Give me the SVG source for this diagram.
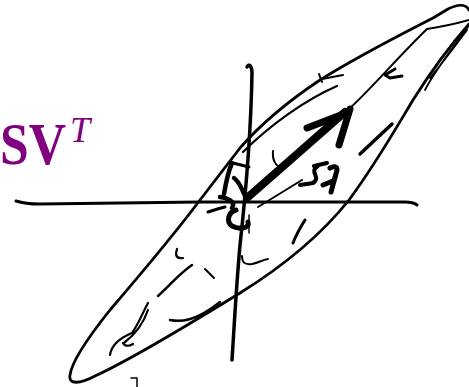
<svg xmlns="http://www.w3.org/2000/svg" width="469" height="387" viewBox="0 0 469 387">
<style>
.s{fill:none;stroke:#000;stroke-linecap:round;stroke-linejoin:round}
.lbl{fill:#800080;font-family:"Liberation Serif","DejaVu Serif",serif}
</style>
<rect width="469" height="387" fill="#fff"/>
<text class="lbl" x="0" y="164" font-size="60" font-weight="bold"><tspan textLength="66" lengthAdjust="spacingAndGlyphs">SV</tspan><tspan x="70" y="142" font-size="36" font-weight="normal" font-style="italic">T</tspan></text>
<g id="axes">
<path class="s" stroke-width="3" d="M16,201 Q25,204 40,204 L200,202 L405,202 Q413,202 417,205"/>
<path class="s" stroke-width="3.5" d="M247,67 C249,63 252,66 252,73 C251,130 245,200 240,245 C236,290 234,330 232,360"/>
</g>
<g id="ellipse">
<path class="s" stroke-width="2.8" d="M469,10 C466,4 458,4 448,9 L433,18 C400,35 360,55 320,80 C290,100 260,125 240,148 L200,200 C170,240 140,275 110,310 C90,335 72,360 70,375 C68,385 80,384 95,376 C130,360 180,330 240,293 C290,262 325,230 349,200 C375,165 395,130 413,100 C435,65 455,40 469,24"/>
<path class="s" stroke-width="2.2" d="M243,152 C270,125 305,100 337,86"/>
<path class="s" stroke-width="2" d="M319,74 L322,82 M322,79 L343,75"/>
<path class="s" stroke-width="2" d="M350,108 C370,90 400,55 427,29 C440,27 455,24 469,20"/>
<path class="s" stroke-width="1.8" d="M425,90 C435,70 455,45 468,27 M430,78 C445,60 458,42 467,30"/>
<path class="s" stroke-width="3" d="M395,69 L385,75 L390,78 L402,76"/>
<path class="s" stroke-width="3.5" d="M360,154 L392,124"/>
<path class="s" stroke-width="3" d="M293,243 C296,235 300,228 305,220"/>
<path class="s" stroke-width="2.2" d="M177,249 C175,255 176,259 183,258"/>
<path class="s" stroke-width="2.5" d="M158,296 C170,285 180,273 192,265"/>
<path class="s" stroke-width="2" d="M205,269 L214,278"/>
<path class="s" stroke-width="2" d="M242,256 C242,262 244,265 252,264 C258,263 262,260 268,259"/>
<path class="s" stroke-width="2.5" d="M170,320 C180,322 195,322 220,302"/>
<path class="s" stroke-width="2.2" d="M110,355 C111,348 115,340 132,333 C138,325 143,312 148,303 M123,343 C125,347 130,346 133,344 M125,342 C133,336 142,327 148,310"/>
<path class="s" stroke-width="1.5" d="M131,378 L137,378 L137,387"/>
</g>
<g id="vector">
<path class="s" stroke-width="8" d="M247,198 L345,112"/>
<path class="s" stroke-width="7" d="M307,128 L346,113 M350,109 L339,145"/>
<path class="s" stroke-width="2" d="M273,151 C272,160 276,167 283,169"/>
<path class="s" stroke-width="2" d="M258,207 L302,180"/>
<path class="s" stroke-width="4" d="M314,166 L327,163 M318,166 C308,172 322,177 313,183 L300,185"/>
<path class="s" stroke-width="5" d="M330,168 C333,166 337,166 337,170 L331,192 M323,185 L333,181"/>
</g>
<g id="origin-scribble">
<path class="s" stroke-width="3" d="M233,163 L249,167"/>
<path class="s" stroke-width="4.5" d="M232,163 C228,172 226,182 224,194"/>
<path class="s" stroke-width="4.5" d="M234,178 C240,182 242,190 246,198"/>
<path class="s" stroke-width="4.5" d="M220,197 C228,198 236,202 232,208"/>
<path class="s" stroke-width="3" d="M208,212 C214,210 220,208 225,207"/>
<path class="s" stroke-width="5" d="M236,210 C228,212 226,222 232,226 C240,230 250,228 248,222"/>
<path class="s" stroke-width="1.5" d="M249,215 L249,233"/>
</g>
</svg>
